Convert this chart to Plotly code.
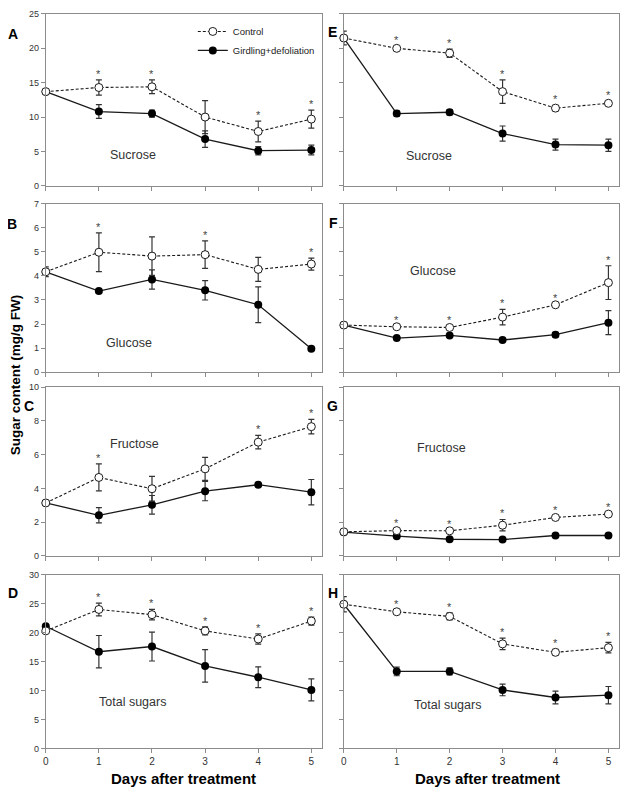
import plotly.graph_objects as go

days = [0, 1, 2, 3, 4, 5]

# A / E: sucrose
a_ctrl = [13.7, 14.3, 14.4, 10.0, 7.9, 9.7]
a_ctrl_err = [0, 1.1, 1.0, 2.4, 1.5, 1.3]
a_gird = [13.7, 10.8, 10.5, 6.8, 5.1, 5.2]
a_gird_err = [0, 1.0, 0.5, 1.2, 0.6, 0.7]
a_star = [1, 2, 4, 5]

e_ctrl = [21.5, 20.0, 19.3, 13.7, 11.3, 12.0]
e_ctrl_err = [1.0, 0.3, 0.6, 1.7, 0.4, 0.3]
e_gird = [21.5, 10.5, 10.7, 7.6, 6.0, 5.9]
e_gird_err = [0, 0.4, 0.4, 1.1, 0.8, 0.9]
e_star = [1, 2, 3, 4, 5]

# B / F: glucose
b_ctrl = [4.17, 4.98, 4.82, 4.88, 4.27, 4.49]
b_ctrl_err = [0, 0.8, 0.8, 0.57, 0.5, 0.25]
b_gird = [4.17, 3.37, 3.85, 3.4, 2.8, 0.98]
b_gird_err = [0.2, 0.1, 0.4, 0.4, 0.74, 0.05]
b_star = [1, 3, 5]

f_ctrl = [1.96, 1.89, 1.86, 2.29, 2.8, 3.72]
f_ctrl_err = [0, 0.05, 0.05, 0.32, 0.05, 0.7]
f_gird = [1.96, 1.42, 1.53, 1.34, 1.56, 2.06]
f_gird_err = [0, 0.05, 0.05, 0.05, 0.1, 0.5]
f_star = [1, 2, 3, 4, 5]

# C / G: fructose
c_ctrl = [3.14, 4.65, 3.98, 5.16, 6.74, 7.66]
c_ctrl_err = [0, 0.8, 0.73, 0.68, 0.4, 0.43]
c_gird = [3.14, 2.41, 3.03, 3.84, 4.22, 3.78]
c_gird_err = [0, 0.45, 0.55, 0.57, 0.1, 0.75]
c_star = [1, 4, 5]

g_ctrl = [1.43, 1.5, 1.49, 1.82, 2.28, 2.48]
g_ctrl_err = [0, 0.1, 0.05, 0.34, 0.08, 0.08]
g_gird = [1.41, 1.17, 0.99, 0.97, 1.21, 1.21]
g_gird_err = [0.05, 0.1, 0.05, 0.1, 0.1, 0.12]
g_star = [1, 2, 3, 4, 5]

# D / H: total sugars
d_ctrl = [20.3, 24.0, 23.1, 20.3, 18.9, 22.0]
d_ctrl_err = [0, 1.1, 0.9, 0.7, 0.9, 0.7]
d_gird = [21.1, 16.7, 17.6, 14.25, 12.3, 10.1]
d_gird_err = [0, 2.8, 2.5, 2.8, 1.8, 1.9]
d_star = [1, 2, 3, 4, 5]

h_ctrl = [24.9, 23.6, 22.8, 18.05, 16.6, 17.4]
h_ctrl_err = [1.3, 0.3, 0.6, 1.0, 0.5, 0.9]
h_gird = [24.9, 13.3, 13.3, 10.1, 8.8, 9.2]
h_gird_err = [0, 0.75, 0.6, 1.0, 1.1, 1.5]
h_star = [1, 2, 3, 4, 5]

y_ranges = [(25, 5), (7, 1), (10, 2), (30, 5)]
sugars = ["Sucrose", "Glucose", "Fructose", "Total sugars"]

panels = [
    ("A", a_ctrl, a_ctrl_err, a_gird, a_gird_err, a_star),
    ("B", b_ctrl, b_ctrl_err, b_gird, b_gird_err, b_star),
    ("C", c_ctrl, c_ctrl_err, c_gird, c_gird_err, c_star),
    ("D", d_ctrl, d_ctrl_err, d_gird, d_gird_err, d_star),
    ("E", e_ctrl, e_ctrl_err, e_gird, e_gird_err, e_star),
    ("F", f_ctrl, f_ctrl_err, f_gird, f_gird_err, f_star),
    ("G", g_ctrl, g_ctrl_err, g_gird, g_gird_err, g_star),
    ("H", h_ctrl, h_ctrl_err, h_gird, h_gird_err, h_star),
]

# page body adds an 8px margin, so positions below are in window pixels
OFF = 8
W, H = 628 - 2 * OFF, 796 - 2 * OFF


def px(x, y):
    fx = min(max((x - OFF) / W, 0), 1)
    fy = min(max(1 - (y - OFF) / H, 0), 1)
    return fx, fy


col_px = [(43, 321), (343, 620)]
row_px = [(9, 183), (201, 372), (387, 558), (577, 753)]
label_px = [(131, 152), (127, 342), (132, 445), (130, 706),
            (429, 153), (433, 269), (441, 449), (447, 709)]
letter_px = [(10, 29), (9, 222), (26, 406), (10, 596),
             (332, 27), (333, 221), (332, 406), (332, 596)]

LINE = "#1a1a1a"
AXC = "#8c8c8c"

fig = go.Figure()
annotations = []
layout = {}

for i, (letter, ctrl, ctrl_err, gird, gird_err, stars) in enumerate(panels):
    col, row = i // 4, i % 4
    n = "" if i == 0 else str(i + 1)
    xa, ya = "x" + n, "y" + n
    x0, x1 = col_px[col]
    y0, y1 = row_px[row]
    ymax, dtick = y_ranges[row]
    layout["xaxis" + n] = dict(
        domain=[px(x0, 0)[0], px(x1, 0)[0]], anchor=ya, range=[0, 5.2],
        tickvals=days, showticklabels=(row == 3), ticks="outside", ticklen=4,
        tickcolor=AXC, showline=True, linecolor=AXC, linewidth=1, mirror=True,
        showgrid=False, zeroline=False,
        tickfont=dict(family="Liberation Sans", size=10, color="#333"))
    layout["yaxis" + n] = dict(
        domain=[px(0, y1)[1], px(0, y0)[1]], anchor=xa, range=[0, ymax],
        dtick=dtick, showticklabels=(col == 0), ticks="outside", ticklen=4,
        tickcolor=AXC, showline=True, linecolor=AXC, linewidth=1, mirror=True,
        showgrid=False, zeroline=False,
        tickfont=dict(family="Liberation Sans", size=9, color="#333"))

    fig.add_trace(go.Scatter(
        x=days, y=gird, xaxis=xa, yaxis=ya, mode="lines+markers",
        name="Girdling+defoliation", showlegend=(i == 0), cliponaxis=False,
        line=dict(color=LINE, width=1.3),
        marker=dict(symbol="circle", size=8, color="black"),
        error_y=dict(type="data", array=gird_err, color="#333",
                     thickness=1.2, width=3)))
    fig.add_trace(go.Scatter(
        x=days, y=ctrl, xaxis=xa, yaxis=ya, mode="lines+markers",
        name="Control", showlegend=(i == 0), cliponaxis=False,
        line=dict(color=LINE, width=1.1, dash="3px,2px"),
        marker=dict(symbol="circle", size=8, color="white",
                    line=dict(color=LINE, width=1)),
        error_y=dict(type="data", array=ctrl_err, color="#333",
                     thickness=1.2, width=3)))

    for d in stars:
        annotations.append(dict(
            x=d, y=ctrl[d] + ctrl_err[d], xref=xa, yref=ya, text="*",
            showarrow=False, yanchor="bottom", yshift=-2,
            font=dict(family="Liberation Sans", size=11, color="#444")))

    lx, ly = px(*label_px[i])
    annotations.append(dict(
        x=lx, y=ly, xref="paper", yref="paper",
        text=sugars[row], showarrow=False, xanchor="center", yanchor="middle",
        font=dict(family="Liberation Sans", size=12.5, color="#333")))
    tx, ty = px(*letter_px[i])
    annotations.append(dict(
        x=tx, y=ty, xref="paper", yref="paper",
        text="<b>" + letter + "</b>", showarrow=False,
        xanchor="center", yanchor="middle",
        font=dict(family="Liberation Sans", size=14, color="black")))

tx, ty = px(12, 375)
annotations.append(dict(
    x=tx, y=ty, xref="paper", yref="paper",
    text="<b>Sugar content (mg/g FW)</b>", textangle=-90, showarrow=False,
    xanchor="center", yanchor="middle",
    font=dict(family="Liberation Sans", size=13.5, color="black")))
for cx in (182, 488):
    tx, ty = px(cx, 783)
    annotations.append(dict(
        x=tx, y=ty, xref="paper", yref="paper",
        text="<b>Days after treatment</b>", showarrow=False,
        xanchor="center", yanchor="middle",
        font=dict(family="Liberation Sans", size=15, color="black")))

lgx, lgy = px(191, 12)
fig.update_layout(
    width=W, height=H, margin=dict(l=0, r=0, t=0, b=0),
    paper_bgcolor="white", plot_bgcolor="white",
    annotations=annotations,
    legend=dict(x=lgx, y=lgy, xanchor="left", yanchor="top",
                traceorder="reversed", itemwidth=30, tracegroupgap=0,
                bgcolor="rgba(0,0,0,0)",
                font=dict(family="Liberation Sans Narrow, Liberation Sans",
                          size=9.5, color="#222")),
    **layout)

fig.write_html("out.html")
